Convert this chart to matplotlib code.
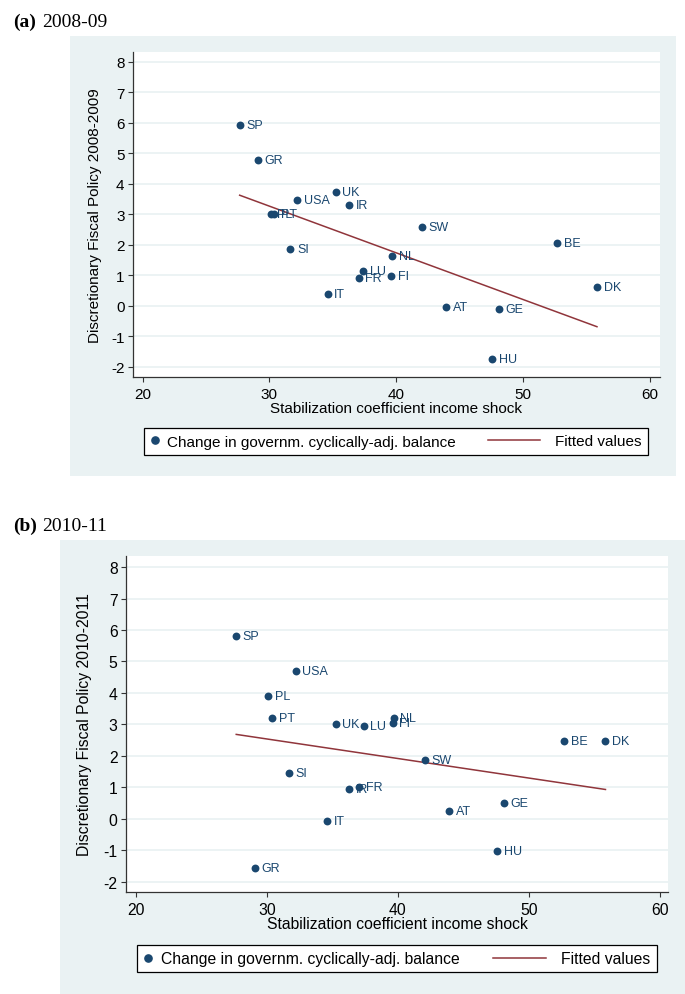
import numpy as np
import matplotlib
matplotlib.use("Agg")
import matplotlib.pyplot as plt
from matplotlib.lines import Line2D
from matplotlib.patches import Rectangle
from matplotlib.legend_handler import HandlerLine2D

NAVY = "#1a476f"
MAROON = "#90353b"
BG = "#eaf2f3"

# data (same x for both periods)
countries = ["SP", "GR", "USA", "UK", "IR", "PL", "PT", "SW", "SI", "NL",
             "LU", "FR", "FI", "IT", "AT", "GE", "BE", "DK", "HU"]
stab_coef = [27.66, 29.10, 32.20, 35.24, 36.30, 30.10, 30.38, 42.03, 31.66, 39.66,
             37.38, 37.03, 39.59, 34.59, 43.93, 48.07, 52.69, 55.83, 47.59]
dfp_0809 = [5.92, 4.78, 3.47, 3.72, 3.29, 3.01, 3.01, 2.58, 1.85, 1.62,
            1.14, 0.92, 0.99, 0.38, -0.03, -0.10, 2.05, 0.61, -1.73]
dfp_1011 = [5.82, -1.57, 4.71, 3.01, 0.95, 3.91, 3.21, 1.88, 1.46, 3.22,
            2.95, 1.03, 3.04, -0.08, 0.25, 0.51, 2.49, 2.47, -1.01]

xticks = [20, 30, 40, 50, 60]
yticks = list(range(-2, 9))
xlabel = "Stabilization coefficient income shock"
legend_labels = ["Change in governm. cyclically-adj. balance", "Fitted values"]

W, H = 685, 995


class LongLineHandler(HandlerLine2D):
    """legend line that reaches back to the left of its handle box"""
    def get_xdata(self, legend, xdescent, ydescent, width, height, fontsize):
        right = -xdescent + width
        x = np.array([right - 3.88 * fontsize, right - 0.48 * fontsize])
        return x, x


def px_rect(x0, y0, x1, y1):
    # pixel box (top-left origin) -> figure fraction rect
    return [x0 / W, (H - y1) / H, (x1 - x0) / W, (y1 - y0) / H]


def draw_panel(fig, box, rect, leg_box, xlim, ylim, yvals, ylabel,
               tag, period, title_y, ylab_x, xlab_y, fs):
    fig.patches.append(Rectangle(box[:2], box[2], box[3], transform=fig.transFigure,
                                 facecolor=BG, edgecolor="none", zorder=-1))
    serif = ["Liberation Serif", "DejaVu Serif"]
    fig.text(13 / W, title_y, tag, family=serif, fontweight="bold", fontsize=14, va="baseline")
    fig.text(42 / W, title_y, period, family=serif, fontsize=14, va="baseline")

    ax = fig.add_axes(rect)
    ax.set_facecolor("white")
    x = np.array(stab_coef)
    y = np.array(yvals)

    ax.scatter(x, y, s=32, color=NAVY, zorder=3, linewidths=0)
    for name, xi, yi in zip(countries, x, y):
        ax.annotate(name, (xi, yi), xytext=(4.8, 0), textcoords="offset points",
                    va="center", ha="left", fontsize=9, color=NAVY, zorder=4)

    b, a = np.polyfit(x, y, 1)
    xf = np.array([x.min(), x.max()])
    ax.plot(xf, a + b * xf, color=MAROON, lw=1.1, zorder=2)

    ax.set_xlim(*xlim)
    ax.set_ylim(*ylim)
    ax.set_xticks(xticks)
    ax.set_yticks(yticks)
    ax.yaxis.grid(True, color=BG, lw=1.3)
    ax.set_axisbelow(True)
    for s in ["top", "right"]:
        ax.spines[s].set_visible(False)
    for s in ["left", "bottom"]:
        ax.spines[s].set_color("#333333")
        ax.spines[s].set_linewidth(0.9)
    ax.tick_params(axis="both", direction="out", length=3.6, width=0.8,
                   color="#333333", labelsize=fs)
    ax.tick_params(axis="x", pad=3.3)
    ax.tick_params(axis="y", pad=2.5)
    ax.set_xlabel(xlabel, fontsize=fs)
    ax.set_ylabel(ylabel, fontsize=fs)
    ax.xaxis.set_label_coords(0.5, xlab_y)
    ax.yaxis.set_label_coords(ylab_x, 0.5)

    handles = [Line2D([], [], ls="none", marker="o", ms=5.2, color=NAVY),
               Line2D([], [], color=MAROON, lw=1.1)]
    leg = fig.legend(handles, legend_labels, loc="center", bbox_to_anchor=leg_box,
                     mode="expand", ncol=2, borderaxespad=0, fontsize=fs,
                     handlelength=0.6, handletextpad=0.5, borderpad=0.4,
                     fancybox=False, framealpha=1, edgecolor="black",
                     handler_map={handles[1]: LongLineHandler()})
    leg.get_frame().set_linewidth(0.9)
    return ax


plt.rcParams["font.family"] = ["Liberation Sans", "DejaVu Sans"]
plt.rcParams["axes.unicode_minus"] = False
fig = plt.figure(figsize=(W / 100, H / 100), dpi=100)

box_a = px_rect(70, 37, 676, 477)
box_b = px_rect(60, 541, 685, 995)

draw_panel(fig, box_a, px_rect(133, 53, 660, 378), px_rect(144, 428, 648, 457),
           (19.25, 60.8), (-2.33, 8.32), dfp_0809,
           "Discretionary Fiscal Policy 2008-2009", "(a)", "2008-09",
           (H - 26.7) / H, -0.058, -0.074, 11)
draw_panel(fig, box_b, px_rect(126, 557, 668, 893), px_rect(137, 945, 657, 974),
           (19.25, 60.6), (-2.32, 8.35), dfp_1011,
           "Discretionary Fiscal Policy 2010-2011", "(b)", "2010-11",
           (H - 530.7) / H, -0.063, -0.071, 11.3)

fig.savefig("out.png", dpi=100)
